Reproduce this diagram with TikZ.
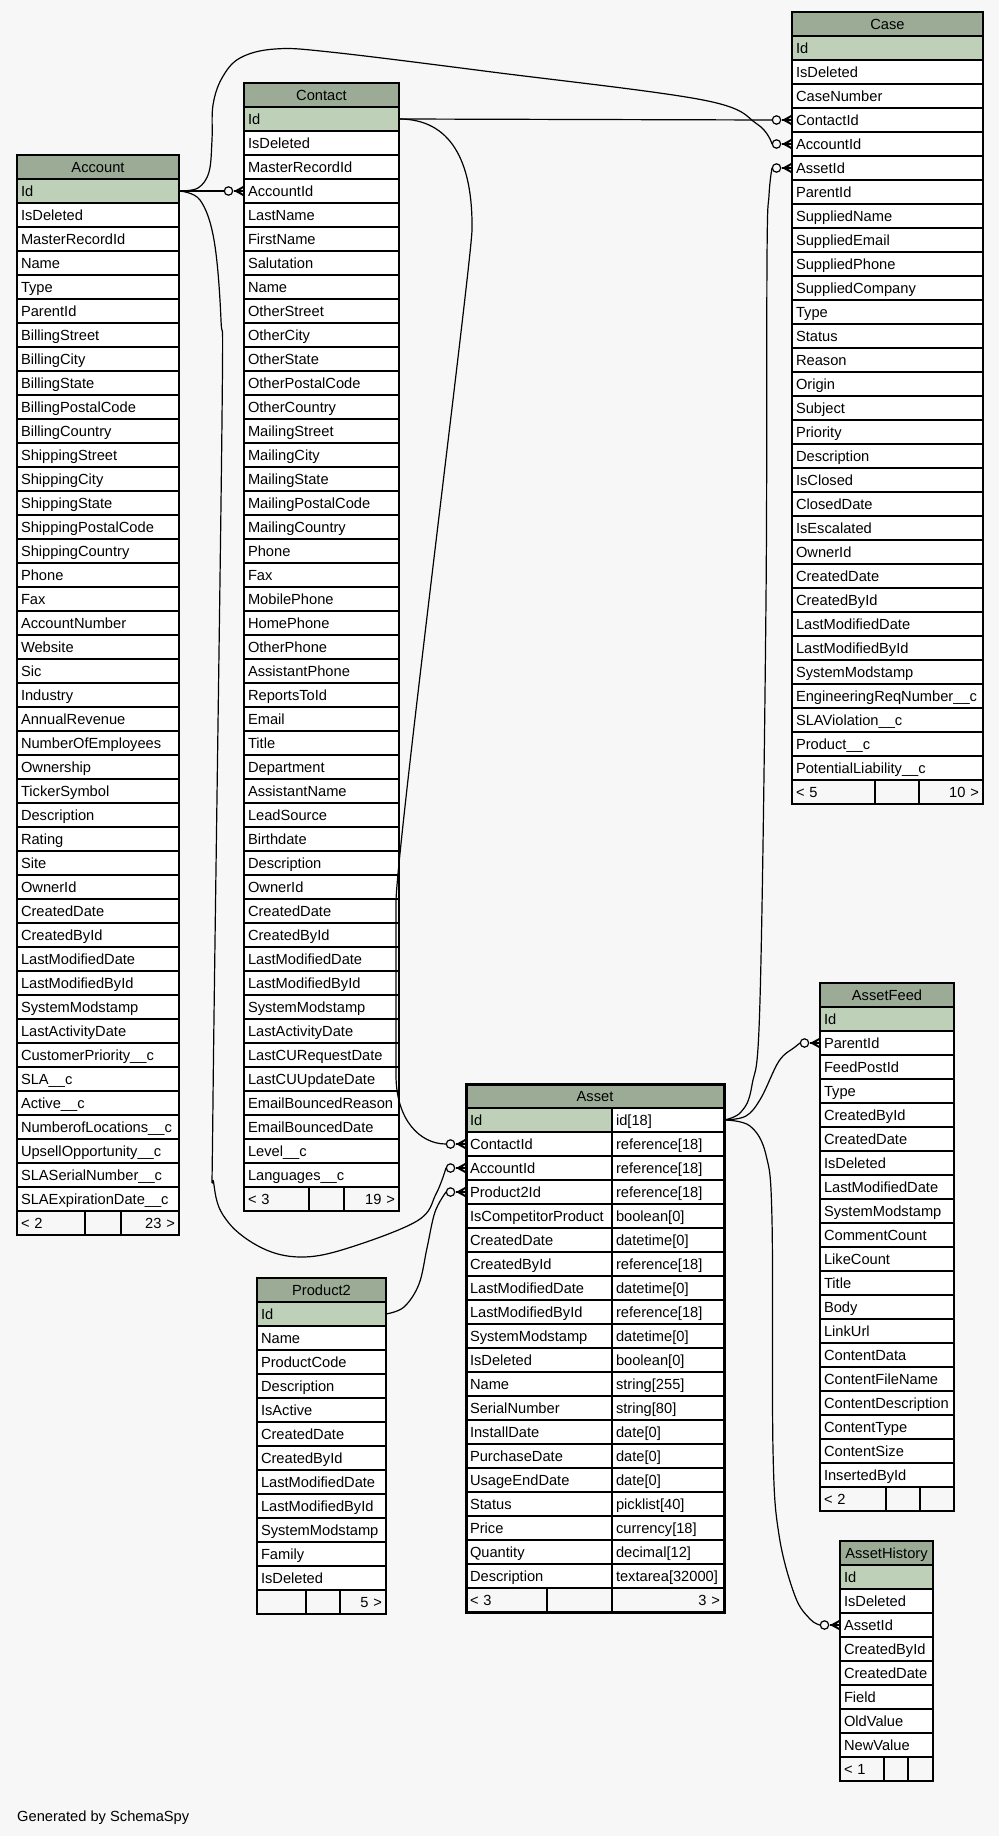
\documentclass[tikz,border=0pt]{standalone}
\usepackage{fontspec}
\setmainfont{Liberation Sans}
\definecolor{pagebg}{HTML}{F7F7F7}
\definecolor{hdrfill}{HTML}{9BAB96}
\definecolor{keyfill}{HTML}{BED1B8}
\newcommand\erdfont{\fontsize{14.67pt}{17pt}\selectfont}
\tikzset{
  erdcell/.style={draw=black, line width=1.4pt, fill=white, anchor=north west,
    minimum height=24pt, inner xsep=4pt, inner ysep=0pt, outer sep=0pt,
    text height=10.6pt, text depth=0pt, font=\erdfont},
  rowcell/.style={erdcell, align=left},
  hdrcell/.style={erdcell, fill=hdrfill, align=center},
  keycell/.style={rowcell, fill=keyfill},
  footcell/.style={erdcell, fill=pagebg},
  conn/.style={draw=black, line width=1.2pt},
  crowodot/.pic={
    \fill[black] (-10,0) -- (0,-5.5) -- (0,-3.6) -- (-5,0) -- (0,3.6) -- (0,5.5) -- cycle;
    \draw[line width=1.2pt] (-10,0) -- (0,0);
    \draw[line width=1.2pt, fill=pagebg] (-15.5,0) circle[radius=4.2];
  },
}
% table: name, left x, top y, width, title, columns after Id
\newcommand\erdtable[6]{%
  \pgfmathsetmacro\erdtw{#4-8}%
  \node[hdrcell, minimum width=#4pt] (#1-h) at (#2,#3) {#5};
  \node[keycell, text width=\erdtw pt] (#1-1) at (#2,#3+24) {Id};
  \foreach \r [count=\i from 2] in {#6}{%
    \node[rowcell, text width=\erdtw pt] (#1-\i) at (#2,#3+24*\i) {\r};
  }%
}
% footer row: name, x, y, three widths, left text, right text
\newcommand\erdfoot[8]{%
  \pgfmathsetmacro\erdwa{#4-8}\pgfmathsetmacro\erdwc{#6-8}%
  \node[footcell, text width=\erdwa pt, align=left] (#1-fa) at (#2,#3) {#7};
  \node[footcell, minimum width=#5pt] (#1-fb) at (#1-fa.north east) {};
  \node[footcell, text width=\erdwc pt, align=right] (#1-fc) at (#1-fb.north east) {#8};
}
\begin{document}
\begin{tikzpicture}[x=1pt,y=-1pt]
\fill[pagebg] (0,0) rectangle (999,1836);
\useasboundingbox (0,0) rectangle (999,1836);

% Account
\erdtable{acc}{17}{155}{162}{Account}{IsDeleted,MasterRecordId,Name,Type,ParentId,BillingStreet,BillingCity,BillingState,BillingPostalCode,BillingCountry,ShippingStreet,ShippingCity,ShippingState,ShippingPostalCode,ShippingCountry,Phone,Fax,AccountNumber,Website,Sic,Industry,AnnualRevenue,NumberOfEmployees,Ownership,TickerSymbol,Description,Rating,Site,OwnerId,CreatedDate,CreatedById,LastModifiedDate,LastModifiedById,SystemModstamp,LastActivityDate,CustomerPriority\_\_c,SLA\_\_c,Active\_\_c,NumberofLocations\_\_c,UpsellOpportunity\_\_c,SLASerialNumber\_\_c,SLAExpirationDate\_\_c}
\erdfoot{acc}{17}{1211}{68}{36}{58}{< 2}{23 >}

% Contact
\erdtable{ct}{244}{83}{155}{Contact}{IsDeleted,MasterRecordId,AccountId,LastName,FirstName,Salutation,Name,OtherStreet,OtherCity,OtherState,OtherPostalCode,OtherCountry,MailingStreet,MailingCity,MailingState,MailingPostalCode,MailingCountry,Phone,Fax,MobilePhone,HomePhone,OtherPhone,AssistantPhone,ReportsToId,Email,Title,Department,AssistantName,LeadSource,Birthdate,Description,OwnerId,CreatedDate,CreatedById,LastModifiedDate,LastModifiedById,SystemModstamp,LastActivityDate,LastCURequestDate,LastCUUpdateDate,EmailBouncedReason,EmailBouncedDate,Level\_\_c,Languages\_\_c}
\erdfoot{ct}{244}{1187}{65}{35}{55}{< 3}{19 >}

% Case
\erdtable{case}{792}{12}{191}{Case}{IsDeleted,CaseNumber,ContactId,AccountId,AssetId,ParentId,SuppliedName,SuppliedEmail,SuppliedPhone,SuppliedCompany,Type,Status,Reason,Origin,Subject,Priority,Description,IsClosed,ClosedDate,IsEscalated,OwnerId,CreatedDate,CreatedById,LastModifiedDate,LastModifiedById,SystemModstamp,EngineeringReqNumber\_\_c,SLAViolation\_\_c,Product\_\_c,PotentialLiability\_\_c}
\erdfoot{case}{792}{780}{83}{44}{64}{< 5}{10 >}

% Product2
\erdtable{p2}{257}{1278}{129}{Product2}{Name,ProductCode,Description,IsActive,CreatedDate,CreatedById,LastModifiedDate,LastModifiedById,SystemModstamp,Family,IsDeleted}
\erdfoot{p2}{257}{1590}{49}{34}{46}{}{5 >}

% AssetFeed
\erdtable{af}{820}{983}{134}{AssetFeed}{ParentId,FeedPostId,Type,CreatedById,CreatedDate,IsDeleted,LastModifiedDate,SystemModstamp,CommentCount,LikeCount,Title,Body,LinkUrl,ContentData,ContentFileName,ContentDescription,ContentType,ContentSize,InsertedById}
\erdfoot{af}{820}{1487}{66}{34}{34}{< 2}{}

% AssetHistory
\erdtable{ah}{840}{1541}{93}{AssetHistory}{IsDeleted,AssetId,CreatedById,CreatedDate,Field,OldValue,NewValue}
\erdfoot{ah}{840}{1757}{44}{24}{25}{< 1}{}

% Asset (two columns, heavy outline)
\node[hdrcell, minimum width=258pt] (as-h) at (466,1084) {Asset};
\node[keycell, text width=138pt] (as-1) at (466,1108) {Id};
\node[rowcell, text width=104pt] (as-1-t) at (612,1108) {id[18]};
\foreach \a/\b [count=\i from 2] in {ContactId/reference[18],AccountId/reference[18],Product2Id/reference[18],IsCompetitorProduct/boolean[0],CreatedDate/datetime[0],CreatedById/reference[18],LastModifiedDate/datetime[0],LastModifiedById/reference[18],SystemModstamp/datetime[0],IsDeleted/boolean[0],Name/string[255],SerialNumber/string[80],InstallDate/date[0],PurchaseDate/date[0],UsageEndDate/date[0],Status/picklist[40],Price/currency[18],Quantity/decimal[12],Description/textarea[32000]}{%
  \node[rowcell, text width=138pt] (as-\i) at (466,1084+24*\i) {\a};
  \node[rowcell, text width=104pt] (as-\i-t) at (612,1084+24*\i) {\b};
}
\erdfoot{as}{466}{1588}{81}{65}{112}{< 3}{3 >}
\draw[line width=3pt] (as-h.north west) rectangle (as-fc.south east);

% relationships (parent key -> child column)
\draw[conn] (acc-1.east) -- ([xshift=-20pt]ct-4.west);
\draw[conn] (ct-1.east) -- ([xshift=-20pt]case-4.west);
\draw[conn] plot[smooth, tension=0.6] coordinates {(acc-1.east) (198,188) (209,172) (212,140) (213,105) (222,78) (240,58) (275,49) (330,52) (492,72) (703,100) (757,124) ([xshift=-20pt]case-5.west)};
\draw[conn] plot[smooth, tension=0.6] coordinates {(acc-1.east) (200,200) (214,240) (221,320) (222,420) (213,1100) (214,1185) (228,1222) (262,1248) (300,1257) (345,1249) (417,1221) (436,1194) ([xshift=-20pt]as-3.west)};
\draw[conn] plot[smooth, tension=0.6] coordinates {(p2-1.east) (404,1307) (419,1284) (427,1248) (435,1212) ([xshift=-20pt]as-4.west)};
\draw[conn] (ct-1.east) .. controls (450,119) and (473,160) .. (472,230)
  .. controls (471,265) and (399,830) .. (396,900) -- (396,1075)
  .. controls (396,1120) and (420,1144) .. ([xshift=-20pt]as-2.west);
\draw[conn] plot[smooth, tension=0.6] coordinates {(as-1-t.east) (741,1112) (752,1085) (760,1000) (766,600) (767,260) (769,195) ([xshift=-20pt]case-6.west)};
\draw[conn] plot[smooth, tension=0.6] coordinates {(as-1-t.east) (746,1116) (761,1098) (779,1061) (795,1047) ([xshift=-20pt]af-2.west)};
\draw[conn] plot[smooth, tension=0.6] coordinates {(as-1-t.east) (750,1126) (766,1155) (772,1220) (773,1450) (779,1535) (795,1596) (810,1619) ([xshift=-20pt]ah-3.west)};

% zero-or-many ends
\pic at (ct-4.west) {crowodot};
\pic at (case-4.west) {crowodot};
\pic at (case-5.west) {crowodot};
\pic at (case-6.west) {crowodot};
\pic at (as-2.west) {crowodot};
\pic at (as-3.west) {crowodot};
\pic at (as-4.west) {crowodot};
\pic at (af-2.west) {crowodot};
\pic at (ah-3.west) {crowodot};

\node[anchor=base west, inner sep=0pt, font=\erdfont] (credit) at (17,1821) {Generated by SchemaSpy};
\end{tikzpicture}
\end{document}
